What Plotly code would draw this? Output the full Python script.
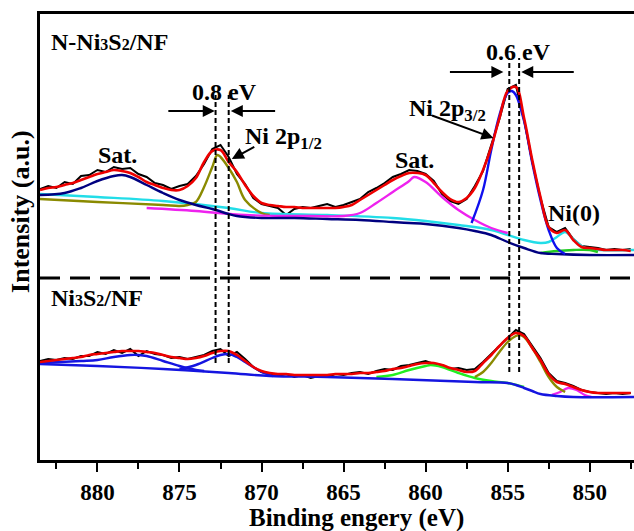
import plotly.graph_objects as go

# ---------------- data (binding energy in eV, intensity in arbitrary units) ----------------
E_HALF = [883.5, 883.0, 882.5, 882.0, 881.5, 881.0, 880.5, 880.0, 879.5, 879.0, 878.5, 878.0,
          877.5, 877.0, 876.5, 876.0, 875.5, 875.0, 874.5, 874.0, 873.5, 873.0, 872.5, 872.0,
          871.5, 871.0, 870.5, 870.0, 869.5, 869.0, 868.5, 868.0, 867.5, 867.0, 866.5, 866.0,
          865.5, 865.0, 864.5, 864.0, 863.5, 863.0, 862.5, 862.0, 861.5, 861.0, 860.5, 860.0,
          859.5, 859.0, 858.5, 858.0, 857.5, 857.0, 856.5, 856.0, 855.5, 855.0, 854.5, 854.0,
          853.5, 853.0, 852.5, 852.0, 851.5, 851.0, 850.5, 850.0, 849.5, 849.0, 848.5, 848.0,
          847.5]

# N-Ni3S2/NF (upper spectrum)
top_raw = [271, 274, 272, 278, 276, 284, 285, 290, 288, 293, 291, 292,
           286, 283, 277, 275, 271, 274, 276, 284, 296, 311, 315, 303,
           286, 276, 262, 256, 254, 252, 245, 251, 253, 252, 254, 256,
           253, 255, 258, 261, 268, 272, 277, 283, 286, 290, 289, 286,
           279, 266, 259, 256, 261, 274, 289, 315, 341, 371, 375, 340,
           298, 262, 233, 228, 232, 221, 214, 213, 212, 210, 211, 210,
           211]
top_fit = [270, 272, 273, 275, 277, 280, 283, 286, 288, 290, 289, 287,
           283, 278, 275, 272, 270, 270, 274, 282, 298, 309, 310, 298,
           288, 275, 264, 257, 255, 254, 253, 253, 252, 252, 252, 252,
           252, 253, 255, 260, 265, 270, 275, 280, 284, 287, 287, 285,
           277, 268, 261, 258, 262, 272, 290, 313, 342, 369, 373, 342,
           300, 263, 233, 227, 230, 220, 213, 212, 211, 210, 210, 210,
           209]

top_sat1_E = [883.5, 882, 881, 880, 879, 878.5, 878, 877, 876, 875, 874, 873, 872, 871.5,
              871, 870, 868, 866, 864, 862, 861, 860, 858, 857, 856, 855, 854, 853, 852,
              850, 847.3]
top_sat1_I = [265, 267, 272, 279, 284, 285, 283, 275, 267, 260, 255, 251, 246, 244,
              243, 242, 242, 241, 240, 238, 237, 236, 232, 229, 225, 218, 212, 207, 206,
              205, 205]

top_bg_E = [883.5, 880, 876, 872, 870, 866, 862, 860, 858, 856, 854, 853, 852.5, 852,
            851.5, 851, 850.5, 850, 847.3]
top_bg_I = [266, 263, 259, 252, 247, 245, 242, 239, 235, 230, 220, 217, 218, 223,
            228, 221, 214, 211, 210]

top_p12_E = [883.5, 880, 876, 875, 874.5, 874, 873.5, 873, 872.7, 872.5, 872, 871.5,
             871, 870, 869.5]
top_p12_I = [261, 258, 255, 254, 255, 258, 273, 293, 305, 303, 292, 278,
             260, 247, 245]

top_sat2_E = [877, 874, 871, 867, 865, 864, 863, 862, 861, 860.7, 860, 859, 858, 857,
              856, 855]
top_sat2_I = [252, 249, 245, 244, 244, 247, 257, 268, 279, 283, 278, 263, 250, 240,
              232, 227]

top_p32_E = [857.2, 856.5, 856, 855.5, 855, 854.75, 854.5, 854, 853.5, 853, 852.5, 852,
             851.5]
top_p32_I = [237, 270, 310, 345, 367, 369, 365, 339, 297, 260, 230, 212, 206]

top_green_E = [853, 852, 851, 850, 849.5]
top_green_I = [207, 209, 210, 210, 208]

# Ni3S2/NF (lower spectrum)
bot_raw = [99, 101, 100, 102, 101, 104, 104, 108, 106, 110, 107, 111,
           104, 109, 106, 105, 102, 103, 101, 103, 105, 109, 111, 104,
           108, 101, 93, 88, 86, 84, 86, 83, 85, 82, 84, 83,
           86, 85, 87, 88, 86, 89, 91, 90, 94, 95, 97, 99,
           96, 95, 91, 92, 90, 91, 98, 106, 115, 123, 130, 126,
           114, 102, 87, 79, 77, 74, 70, 68, 67, 66, 67, 66,
           67]
bot_fit = [98, 99, 100, 101, 102, 103, 105, 106, 107, 108, 109, 109,
           109, 108, 107, 105, 103, 102, 101, 102, 104, 107, 109, 109,
           105, 99, 93, 89, 87, 86, 86, 85, 85, 85, 85, 85,
           86, 86, 86, 87, 87, 88, 89, 91, 92, 94, 96, 97,
           97, 95, 92, 90, 88, 89, 97, 105, 114, 122, 127, 124,
           112, 100, 86, 78, 76, 73, 70, 68, 67, 67, 67, 67,
           67]

bot_bg_E = [883.5, 880, 876, 872, 869.5, 866, 862, 857, 855, 854.5, 854, 853.5, 853,
            852, 851, 847.3]
bot_bg_I = [96, 94, 91, 87, 84, 83, 81, 78, 77, 75, 72, 69, 66, 64, 63, 63]

bot_sat1_E = [883.5, 881, 880, 879, 878, 877.5, 877, 876, 875, 874, 873.5]
bot_sat1_I = [97, 99, 100, 103, 105, 105, 104, 99, 94, 90, 89]

bot_p12_E = [875, 874, 873, 872.5, 872, 871.5, 871, 870, 869.3]
bot_p12_I = [91, 95, 102, 105, 106, 103, 98, 88, 84]

bot_sat2_E = [863, 862, 861, 860, 859.7, 859, 858, 857, 856, 855, 854]
bot_sat2_I = [83, 85, 90, 94, 95, 93, 87, 82, 79, 77, 73]

bot_p32_E = [857, 856.5, 856, 855.5, 855, 854.5, 854.25, 854, 853.5, 853, 852.5, 852, 851.5]
bot_p32_I = [83, 88, 97, 108, 118, 124, 125, 123, 112, 98, 83, 73, 68]

bot_ni0_E = [852.3, 851.8, 851.3, 850.8, 850.3, 849.9]
bot_ni0_I = [65, 68, 72, 70, 65, 63]

# guide lines / labels
shift_12 = [872.8, 872.0]
shift_32 = [854.9, 854.3]
divider_I = 182
tick_vals = [880, 875, 870, 865, 860, 855, 850]
tick_text = ["880", "875", "870", "865", "860", "855", "850"]

# ---------------- figure ----------------
FONT = "Liberation Serif"
fig = go.Figure()


def add(x, y, color, width=2.4, spline=True):
    fig.add_trace(go.Scatter(
        x=x, y=y, mode="lines",
        line=dict(color=color, width=width, shape="spline" if spline else "linear",
                  smoothing=1.0),
        hoverinfo="skip", showlegend=False))


# upper spectrum
add(E_HALF, top_raw, "#000000", 2.0, spline=False)
add(top_bg_E, top_bg_I, "#22dde8")
add(top_p12_E, top_p12_I, "#8a8a00")
add(top_sat2_E, top_sat2_I, "#ee22ee")
add(top_green_E, top_green_I, "#22cc22")
add(top_sat1_E, top_sat1_I, "#000080")
add(top_p32_E, top_p32_I, "#1010ee")
add(E_HALF, top_fit, "#ee0000", 2.6)

# lower spectrum
add(E_HALF, bot_raw, "#000000", 2.0, spline=False)
add(bot_sat2_E, bot_sat2_I, "#22ee22")
add(bot_ni0_E, bot_ni0_I, "#ee22ee")
add(bot_p32_E, bot_p32_I, "#8a8a00")
add(bot_bg_E, bot_bg_I, "#1515e0")
add(bot_sat1_E, bot_sat1_I, "#1515e0")
add(bot_p12_E, bot_p12_I, "#1515e0")
add(E_HALF, bot_fit, "#ee0000", 2.6)

# divider
fig.add_shape(type="line", xref="paper", yref="y", x0=0, x1=1, y0=divider_I, y1=divider_I,
              line=dict(color="black", width=3, dash="20px,10px"))
# vertical dashed guide lines
for xv in shift_12:
    fig.add_shape(type="line", xref="x", yref="y", x0=xv, x1=xv, y0=97, y1=365,
                  line=dict(color="black", width=2, dash="5px,3px"))
for xv in shift_32:
    fig.add_shape(type="line", xref="x", yref="y", x0=xv, x1=xv, y0=88, y1=402,
                  line=dict(color="black", width=2, dash="5px,3px"))

# arrows
def arrow(x_head, y_head, x_tail, y_tail):
    fig.add_annotation(x=x_head, y=y_head, ax=x_tail, ay=y_tail, xref="x", yref="y",
                       axref="x", ayref="y", text="", showarrow=True, arrowhead=2,
                       arrowsize=1.2, arrowwidth=2, arrowcolor="black")

arrow(872.85, 349, 875.77, 349)
arrow(871.87, 349, 869.08, 349)
arrow(855.26, 388, 858.61, 388)
arrow(854.17, 388, 850.88, 388)
arrow(871.81, 301, 870.35, 314)
arrow(855.87, 322, 859.7, 345)


def label(x, y, text, xanchor="center", size=24):
    fig.add_annotation(x=x, y=y, xref="x", yref="y", text="<b>" + text + "</b>",
                       showarrow=False, xanchor=xanchor, yanchor="middle",
                       font=dict(family=FONT, size=size, color="black"))


small = "<span style='font-size:16px'>{}</span>"
label(882.95, 418, "N-Ni" + small.format("3") + "S" + small.format("2") + "/NF", "left")
label(882.95, 162, "Ni" + small.format("3") + "S" + small.format("2") + "/NF", "left")
label(872.24, 368, "0.8 eV")
label(854.35, 408, "0.6 eV")
label(878.75, 305, "Sat.")
label(860.68, 300, "Sat.")
label(871.14, 322, "Ni 2p<sub>1/2</sub>", "left")
label(861.16, 350, "Ni 2p<sub>3/2</sub>", "left")
label(850.94, 247, "Ni(0)")

# axis titles
fig.add_annotation(x=0.532, y=-0.131, xref="paper", yref="paper",
                   text="<b>Binding engery (eV)</b>",
                   showarrow=False, xanchor="center", yanchor="middle",
                   font=dict(family=FONT, size=25, color="black"))
fig.add_annotation(x=-0.034, y=0.558, xref="paper", yref="paper", text="<b>Intensity (a.u.)</b>",
                   showarrow=False, textangle=-90, xanchor="center", yanchor="middle",
                   font=dict(family=FONT, size=26, color="black"))

fig.update_layout(
    width=634, height=531,
    margin=dict(l=40, r=0, t=14, b=71),
    paper_bgcolor="white", plot_bgcolor="white",
    xaxis=dict(range=[883.5, 847.3], showgrid=False, zeroline=False,
               showline=True, linecolor="black", linewidth=3, mirror=True,
               ticks="outside", ticklen=9, tickwidth=2, tickcolor="black",
               tickvals=tick_vals, ticktext=tick_text, ticklabelstandoff=0,
               tickfont=dict(family=FONT, size=23, color="black", weight="bold"),
               minor=dict(ticks="outside", ticklen=6, tickwidth=2, tickcolor="black",
                          dtick=2.5, tick0=847.5)),
    yaxis=dict(range=[0, 446], showgrid=False, zeroline=False, showticklabels=False,
               showline=True, linecolor="black", linewidth=3, mirror=False, ticks=""),
)

fig.write_html("out.html",
               config={"displayModeBar": False},
               post_script="document.body.style.margin='0px';"
                           "document.body.style.overflow='hidden';")
